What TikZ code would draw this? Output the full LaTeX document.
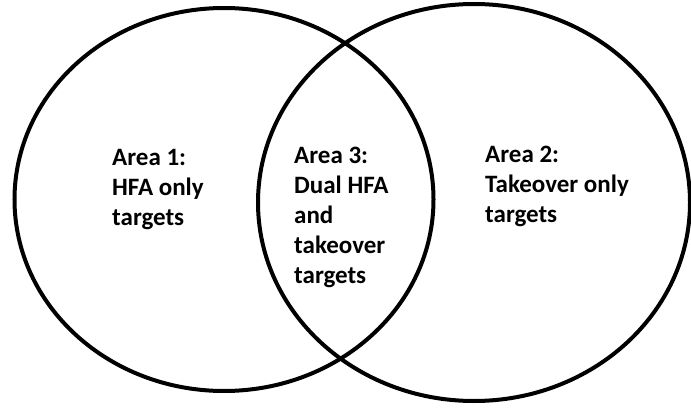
\documentclass[tikz,border=0pt]{standalone}
\usepackage{fontspec}
\setmainfont{Carlito}
\usepackage{tikz}
\usetikzlibrary{positioning}

\begin{document}
\begin{tikzpicture}[x=1pt, y=1pt,
    area/.style={draw, line width=4pt},
    label/.style={anchor=base west, inner sep=0pt, align=left, font=\bfseries\fontsize{25}{30}\selectfont}
]
\useasboundingbox (0,0) rectangle (691,408);

\draw[area] (224,208.5) ellipse [x radius=209.5, y radius=191.5];
\draw[area] (474,205.5) ellipse [x radius=216, y radius=198.5];

% base anchor sits on the last line
\node[label] (one) at (112,183) {Area 1:\\HFA only\\targets};
\node[label] (three) at (294,125) {Area 3:\\Dual HFA\\and\\takeover\\targets};
\node[label] (two) at (485,186) {Area 2:\\Takeover only\\targets};

\end{tikzpicture}
\end{document}
